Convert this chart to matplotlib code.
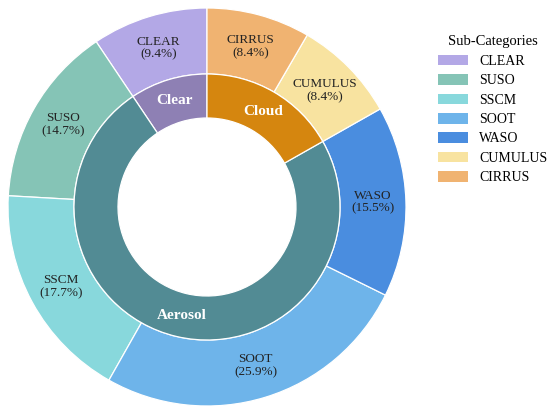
import matplotlib.pyplot as plt
from matplotlib.patches import Patch

# 数据
sub_labels = ['CLEAR', 'SUSO', 'SSCM', 'SOOT', 'WASO', 'CUMULUS', 'CIRRUS']
sub_values = [9.4, 14.7, 17.7, 25.9, 15.5, 8.4, 8.4]
sub_colors = ['#b3a8e6', '#85c4b6', '#88d8dc', '#6eb4ea', '#4a8ddf', '#f8e3a0', '#f0b371']

main_labels = ['Clear', 'Aerosol', 'Cloud']
main_values = [9.4, 73.8, 16.8]
main_colors = ['#8e80b4', '#528b94', '#d5860f']

plt.rcParams['font.family'] = ['Liberation Serif', 'DejaVu Serif']

fig = plt.figure(figsize=(5.5, 4.12), dpi=100)
ax = fig.add_axes([8 / 550, 6 / 412, 398 / 550, 398 / 412])

r_out = 1.0
r_mid = 133 / 199
r_in = 89 / 199

# 外环
ax.pie(sub_values, radius=r_out, colors=sub_colors, startangle=90, counterclock=True,
       labels=[f'{l}\n({v}%)' for l, v in zip(sub_labels, sub_values)],
       labeldistance=(r_out + r_mid) / 2 / r_out,
       textprops=dict(fontsize=9.5, ha='center', va='center', color='#222222',
                      linespacing=1.1),
       wedgeprops=dict(width=r_out - r_mid, edgecolor='white', linewidth=0.9))

# 内环
ax.pie(main_values, radius=r_mid, colors=main_colors, startangle=90, counterclock=True,
       labels=main_labels, labeldistance=(r_mid + r_in) / 2 / r_mid,
       textprops=dict(fontsize=11, fontweight='bold', color='white', ha='center', va='center'),
       wedgeprops=dict(width=r_mid - r_in, edgecolor='white', linewidth=0.9))

ax.set_xlim(-1, 1)
ax.set_ylim(-1, 1)
ax.set_aspect('equal')

handles = [Patch(facecolor=c, edgecolor='none') for c in sub_colors]
fig.legend(handles, sub_labels, title='Sub-Categories', loc='upper left',
           bbox_to_anchor=(425 / 550, 1 - 23 / 412), frameon=False,
           fontsize=10, title_fontsize=10.5, handlelength=2.2, handleheight=0.8,
           labelspacing=0.45)

fig.savefig('out.png', dpi=100)
